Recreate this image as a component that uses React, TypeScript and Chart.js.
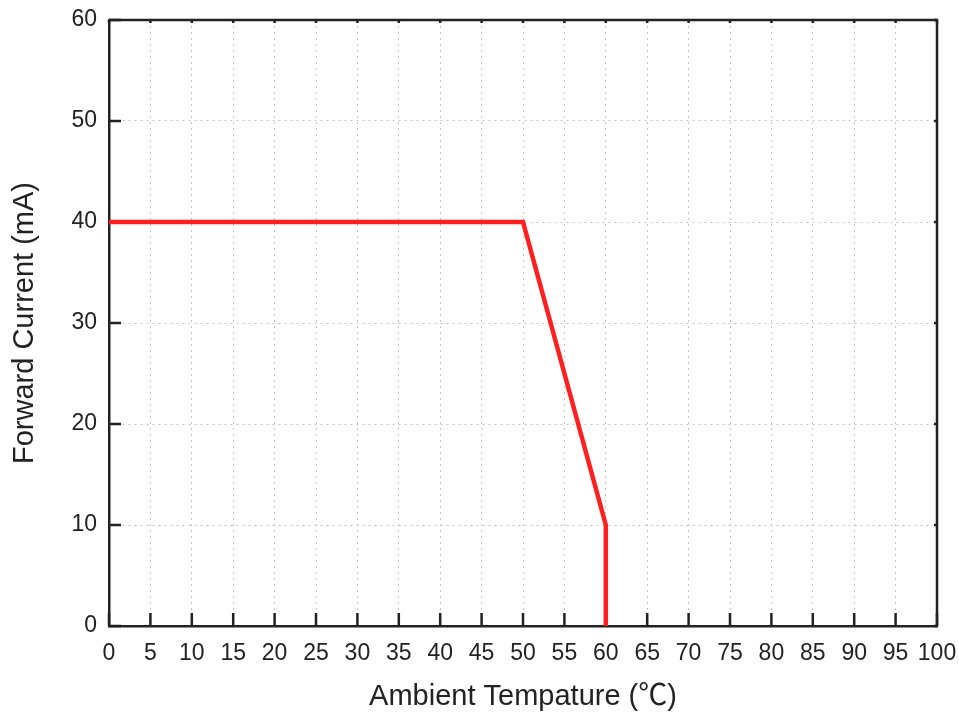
import { useEffect, useRef } from 'react';
import { Chart, registerables } from 'chart.js';

Chart.register(...registerables);

const temperatures = [0, 50, 60, 60];
const currents = [40, 40, 10, 0];
const xMin = 0;
const xMax = 100;
const xStep = 5;
const yMin = 0;
const yMax = 60;
const yStep = 10;
const xTitle = 'Ambient Tempature (℃)';
const yTitle = 'Forward Current (mA)';

const FONT = '"Liberation Sans", Arial, Helvetica, "Noto Sans CJK SC", sans-serif';
const INK = '#222222';

const framePlugin = {
  id: 'frameTicks',
  beforeDatasetsDraw(chart: any) {
    const { ctx, chartArea } = chart;
    const { left, right, top, bottom } = chartArea;
    const xs = chart.scales.x;
    const ys = chart.scales.y;
    ctx.save();
    ctx.strokeStyle = INK;
    ctx.lineWidth = 2.5;
    ctx.beginPath();
    ctx.moveTo(left, top);
    ctx.lineTo(right, top);
    ctx.lineTo(right, bottom);
    ctx.stroke();
    ctx.lineWidth = 2.5;
    ctx.beginPath();
    for (const t of xs.ticks) {
      const px = xs.getPixelForValue(t.value);
      ctx.moveTo(px, bottom);
      ctx.lineTo(px, bottom - 13);
      ctx.moveTo(px, top);
      ctx.lineTo(px, top + 3);
    }
    for (const t of ys.ticks) {
      const py = ys.getPixelForValue(t.value);
      ctx.moveTo(left, py);
      ctx.lineTo(left + 12, py);
      ctx.moveTo(right, py);
      ctx.lineTo(right - 3, py);
    }
    ctx.stroke();
    ctx.restore();
  },
};

export default function App() {
  const ref = useRef<HTMLCanvasElement | null>(null);

  useEffect(() => {
    if (!ref.current) return;
    const chart = new Chart(ref.current, {
      type: 'line',
      data: {
        datasets: [
          {
            data: temperatures.map((t, i) => ({ x: t, y: currents[i] })),
            borderColor: '#FF1F1F',
            borderWidth: 4.5,
            pointRadius: 0,
            tension: 0,
            fill: false,
            clip: false as any,
          },
        ],
      },
      options: {
        animation: false,
        responsive: true,
        maintainAspectRatio: false,
        devicePixelRatio: 1,
        layout: { padding: { top: 20, right: 22, left: 0, bottom: 0 } },
        plugins: { legend: { display: false }, tooltip: { enabled: false } },
        scales: {
          x: {
            type: 'linear',
            min: xMin,
            max: xMax,
            ticks: {
              stepSize: xStep,
              autoSkip: false,
              maxRotation: 0,
              color: INK,
              font: { family: FONT, size: 23 },
              padding: 14,
            },
            grid: {
              color: '#c4c4c4',
              lineWidth: 1,
              drawTicks: false,
            },
            border: { color: INK, width: 2.5, dash: [2, 4] } as any,
            title: {
              display: true,
              text: xTitle,
              color: INK,
              font: { family: FONT, size: 29 },
              padding: { top: 0, bottom: 1 },
            },
            afterFit: (s: any) => {
              s.height = 89;
              s.paddingLeft = 0;
              s.paddingRight = 0;
            },
          },
          y: {
            type: 'linear',
            min: yMin,
            max: yMax,
            ticks: {
              stepSize: yStep,
              color: INK,
              font: { family: FONT, size: 23 },
              padding: 12,
            },
            grid: {
              color: '#c4c4c4',
              lineWidth: 1,
              drawTicks: false,
            },
            border: { color: INK, width: 2.5, dash: [2, 4] } as any,
            title: {
              display: true,
              text: yTitle,
              color: INK,
              font: { family: FONT, size: 29 },
              padding: { top: 8, bottom: 0 },
            },
            afterFit: (s: any) => {
              s.width = 109;
              s.paddingTop = 0;
              s.paddingBottom = 0;
            },
          },
        },
      },
      plugins: [framePlugin],
    });
    return () => chart.destroy();
  }, []);

  return (
    <div style={{ position: 'fixed', left: 0, top: 0, width: 959, height: 715, background: '#fff' }}>
      <canvas ref={ref} />
    </div>
  );
}
